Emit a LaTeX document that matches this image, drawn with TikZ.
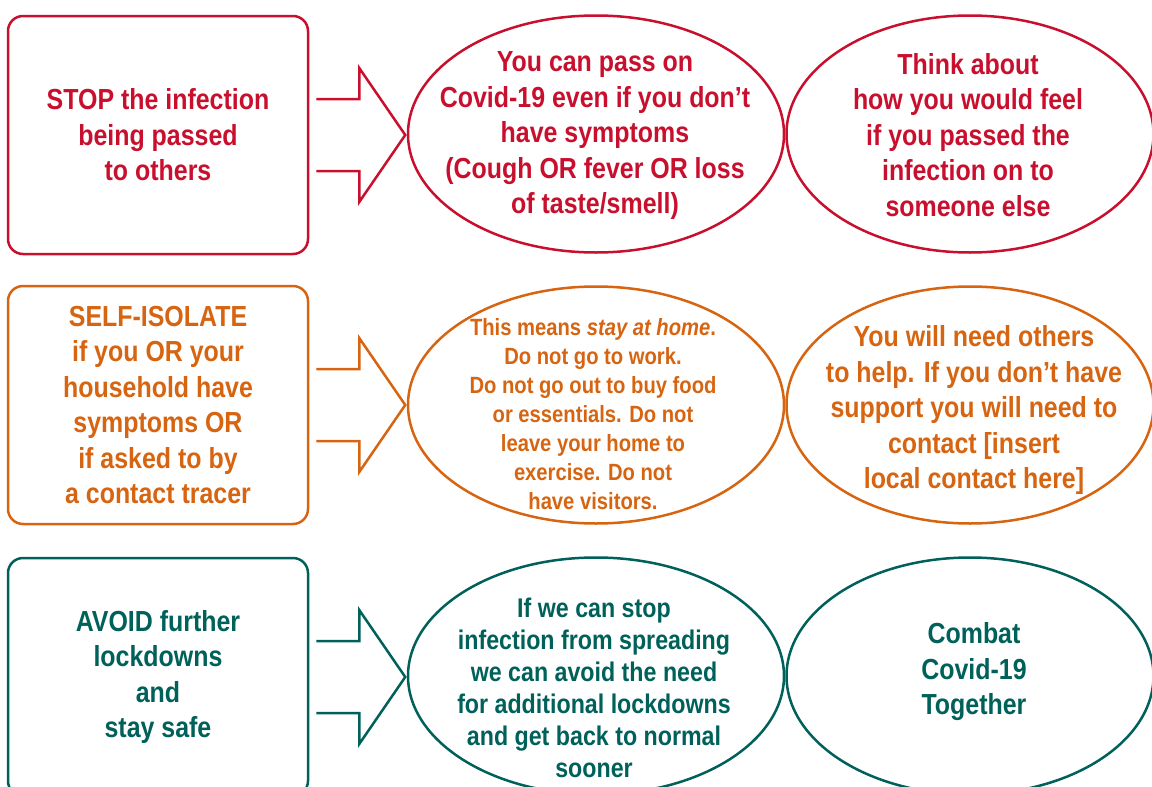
\documentclass[tikz,border=0pt]{standalone}
\usepackage{fontspec}
\setmainfont{Liberation Sans}[FakeStretch=0.86]
\usetikzlibrary{calc,shapes.geometric}
\definecolor{stopred}{RGB}{200,16,46}
\definecolor{isoorange}{RGB}{214,100,16}
\definecolor{avoidteal}{RGB}{0,96,90}
\def\bigfont{\bfseries\fontsize{29}{35.5}\selectfont}
\tikzset{
  msgbox/.style={draw, line width=2.5pt, rounded corners=15pt, minimum width=300pt, minimum height=238pt, align=center, font=\bigfont},
  bubble/.style={draw, ellipse, line width=2.5pt, minimum height=237pt},
  words/.style={align=center, inner sep=0pt, font=\bigfont},
  fatarrow/.style={line width=2.5pt, line join=miter},
}

\begin{document}
\begin{tikzpicture}[x=1pt,y=-1pt]
\useasboundingbox (0,0) rectangle (1152,787);
\clip (0,0) rectangle (1152,787);

% ---------- STOP row
\node[msgbox, stopred] (stop) at (158,135) {STOP the infection\\being passed\\to others};
\node[bubble, stopred, minimum width=376pt] (pass) at (596,134) {};
\node[bubble, stopred, minimum width=367pt] (feel) at (970,134) {};
\node[words, stopred] (passtxt) at (595,136) {You can pass on\\Covid-19 even if you don't\\have symptoms\\(Cough OR fever OR loss\\of taste/smell)};
\node[words, stopred] (feeltxt) at (968,135) {Think about\\how you would feel\\if you passed the\\infection on to\\someone else};

% ---------- SELF-ISOLATE row
\node[msgbox, isoorange] (isolate) at (158,405) {SELF-ISOLATE\\if you OR your\\household have\\symptoms OR\\if asked to by\\a contact tracer};
\node[bubble, isoorange, minimum width=376pt] (home) at (596,405) {};
\node[bubble, isoorange, minimum width=367pt] (help) at (970,405) {};
\node[words, isoorange, font=\bfseries\fontsize{23.5}{29}\selectfont] (hometxt) at (593,414)
  {This means \textit{stay at home}.\\Do not go to work.\\Do not go out to buy food\\or essentials. Do not\\leave your home to\\exercise. Do not\\have visitors.};
\node[words, isoorange] (helptxt) at (974,410) {You will need others\\to help. If you don't have\\support you will need to\\contact [insert\\local contact here]};

% ---------- AVOID row
\node[msgbox, avoidteal] (avoid) at (158,677) {AVOID further\\lockdowns\\and\\stay safe};
\node[bubble, avoidteal, minimum width=376pt] (spread) at (596,676) {};
\node[bubble, avoidteal, minimum width=367pt] (combat) at (970,676) {};
\node[words, avoidteal, font=\bfseries\fontsize{27}{32}\selectfont] (spreadtxt) at (594,688)
  {If we can stop\\infection from spreading\\we can avoid the need\\for additional lockdowns\\and get back to normal\\sooner};
\node[words, avoidteal] (combattxt) at (974,672) {Combat\\Covid-19\\Together};

% ---------- open arrows between box and first bubble
\foreach \row/\col in {stop/stopred, isolate/isoorange, avoid/avoidteal}{
  \coordinate (\row_in) at ($ (\row.east) + (7,0) $);
  \coordinate (\row_tip) at ($ (\row_in) + (89,0) $); % point of the arrow
  \draw[fatarrow, \col] ($ (\row_in) + (0,-36) $) -- ++(43,0) -- ++(0,-31)
    -- (\row_tip) -- ($ (\row_in) + (43,67) $) -- ++(0,-31) -- ($ (\row_in) + (0,36) $);
}
\end{tikzpicture}
\end{document}
